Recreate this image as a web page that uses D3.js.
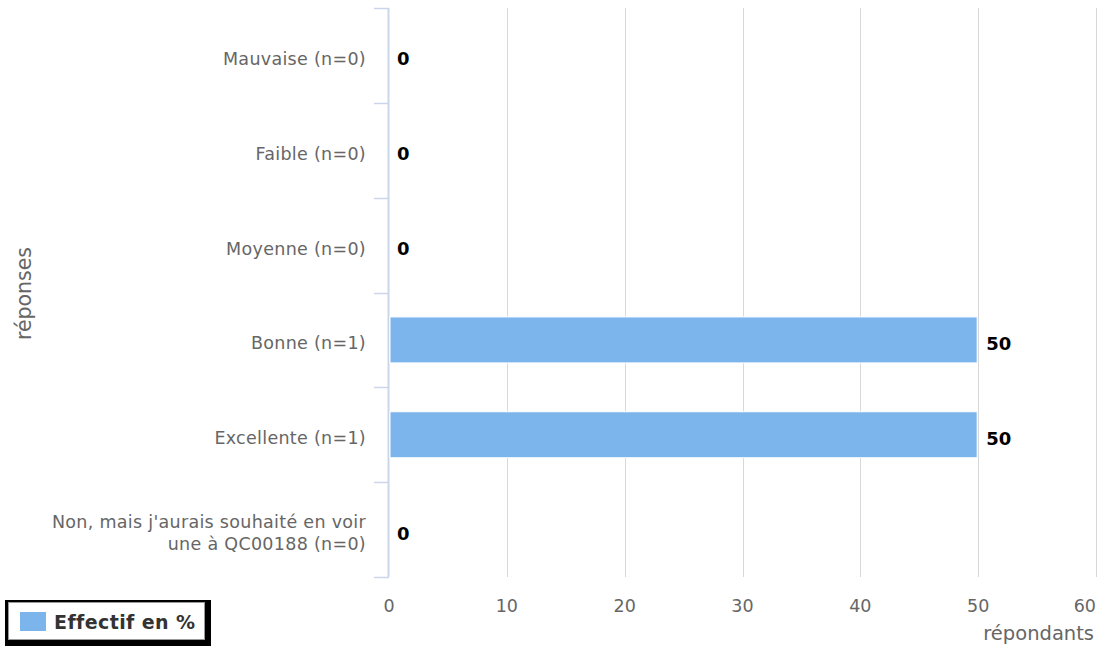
<!DOCTYPE html>
<html>
<head>
<meta charset="utf-8">
<script src="https://cdn.jsdelivr.net/npm/d3@7"></script>
<style>
  html, body { margin: 0; padding: 0; background: #fff; }
  svg { display: block; font-family: "DejaVu Sans", sans-serif; }
</style>
</head>
<body>
<svg id="chart" width="1099" height="646"></svg>
<script>
// Response categories (top to bottom) and their share of respondents in %
const categories = [
  ["Mauvaise (n=0)"],
  ["Faible (n=0)"],
  ["Moyenne (n=0)"],
  ["Bonne (n=1)"],
  ["Excellente (n=1)"],
  ["Non, mais j'aurais souhaité en voir", "une à QC00188 (n=0)"]
];
const values = [0, 0, 0, 50, 50, 0];
const xTicks = [0, 10, 20, 30, 40, 50, 60];
const seriesName = "Effectif en %";
const xTitle = "répondants";
const yTitle = "réponses";

const svg = d3.select("#chart");
const plotLeft = 389, plotRight = 1096, plotTop = 8, plotBottom = 577;

const x = d3.scaleLinear().domain([0, 60]).range([plotLeft, plotRight]);
const y = d3.scaleBand().domain(d3.range(categories.length)).range([plotTop, plotBottom]).paddingInner(0.515).paddingOuter(0.2575);
const yOuter = d3.scaleBand().domain(d3.range(categories.length)).range([plotTop, plotBottom]);
const mid = i => yOuter(i) + yOuter.bandwidth() / 2;

// vertical grid lines
svg.append("g").selectAll("line").data(xTicks.slice(1)).join("line")
  .attr("x1", d => Math.round(x(d)) + 0.5).attr("x2", d => Math.round(x(d)) + 0.5)
  .attr("y1", plotTop).attr("y2", plotBottom)
  .attr("stroke", "#d8d8d8").attr("stroke-width", 1);

// category axis: line + tick marks at band edges
const yAxis = svg.append("g");
yAxis.append("line")
  .attr("x1", plotLeft - 0.5).attr("x2", plotLeft - 0.5)
  .attr("y1", plotTop).attr("y2", plotBottom)
  .attr("stroke", "#ccd6eb").attr("stroke-width", 2);
const edges = d3.range(categories.length + 1).map(i => i < categories.length ? yOuter(i) : plotBottom);
yAxis.selectAll(".tick").data(edges).join("line")
  .attr("x1", plotLeft - 15).attr("x2", plotLeft)
  .attr("y1", d => Math.round(d) + 0.5).attr("y2", d => Math.round(d) + 0.5)
  .attr("stroke", "#ccd6eb").attr("stroke-width", 1.5);

// category labels
const catLabels = yAxis.selectAll(".cat").data(categories).join("text")
  .attr("text-anchor", "end")
  .attr("fill", "#666")
  .style("font-size", "17.5px")
  .style("letter-spacing", "0.3px")
  .attr("transform", (d, i) => `translate(${plotLeft - 23},${mid(i)})`);
catLabels.each(function(lines) {
  const t = d3.select(this);
  const lh = 22;
  lines.forEach((ln, k) => {
    t.append("tspan").attr("x", 0)
      .attr("y", (k - (lines.length - 1) / 2) * lh + 9.5)
      .text(ln);
  });
});

// bars
svg.append("g").selectAll("rect").data(values).join("rect")
  .attr("x", x(0) + 1)
  .attr("y", (d, i) => y(i))
  .attr("width", d => Math.max(0, x(d) - x(0) - 2))
  .attr("height", y.bandwidth())
  .attr("fill", "#7cb5ec")
  .attr("stroke", "#fff").attr("stroke-width", 1);

// value labels
svg.append("g").selectAll("text").data(values).join("text")
  .attr("x", d => x(d) + 8)
  .attr("y", (d, i) => mid(i) + 10)
  .attr("fill", "#000")
  .style("font-size", "18px").style("font-weight", "bold")
  .text(d => d);

// x axis tick labels (last one kept inside the chart)
svg.append("g").selectAll("text").data(xTicks).join("text")
  .attr("x", (d, i) => i === xTicks.length - 1 ? plotRight : x(d))
  .attr("y", 612)
  .attr("text-anchor", (d, i) => i === xTicks.length - 1 ? "end" : "middle")
  .attr("fill", "#666")
  .style("font-size", "17.5px")
  .text(d => d);

// axis titles
svg.append("text")
  .attr("x", 1094).attr("y", 640)
  .attr("text-anchor", "end").attr("fill", "#666")
  .style("font-size", "19.5px")
  .text(xTitle);
svg.append("text")
  .attr("transform", `translate(31,${(plotTop + plotBottom) / 2 + 1}) rotate(-90)`)
  .attr("text-anchor", "middle").attr("fill", "#666")
  .style("font-size", "20.5px")
  .text(yTitle);

// legend
const lg = svg.append("g");
lg.append("rect").attr("x", 5).attr("y", 600).attr("width", 206).attr("height", 46).attr("fill", "#000");
lg.append("rect").attr("x", 8.5).attr("y", 602.5).attr("width", 196).attr("height", 37)
  .attr("fill", "#fff").attr("stroke", "#999").attr("stroke-width", 1);
lg.append("rect").attr("x", 20).attr("y", 612).attr("width", 26).attr("height", 19).attr("fill", "#7cb5ec");
lg.append("text").attr("x", 54).attr("y", 629)
  .attr("fill", "#333").style("font-size", "19px").style("font-weight", "bold")
  .style("letter-spacing", "0.4px")
  .text(seriesName);
</script>
</body>
</html>
